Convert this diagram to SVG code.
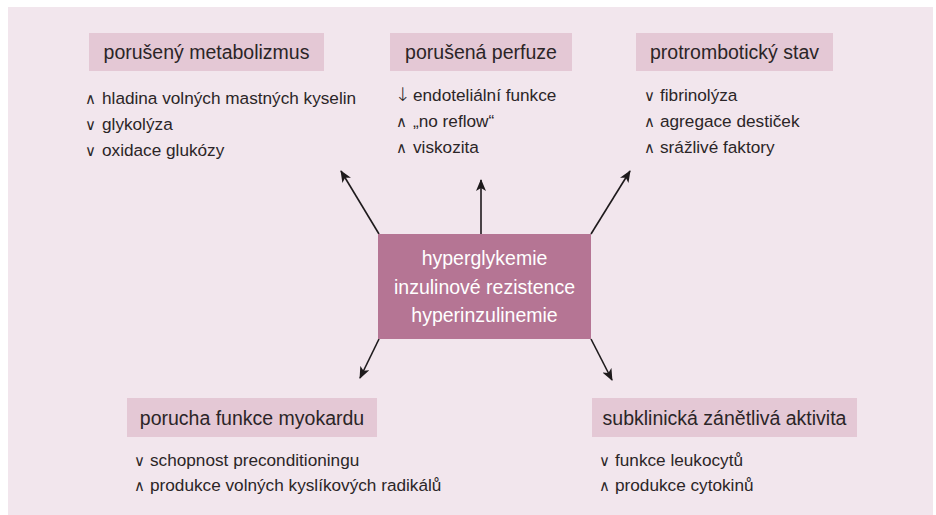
<svg xmlns="http://www.w3.org/2000/svg" width="936" height="515" viewBox="0 0 936 515">
<defs>
<marker id="ah" viewBox="0 0 12 10" refX="11" refY="5" markerWidth="12" markerHeight="10" markerUnits="userSpaceOnUse" orient="auto">
<path d="M0,0 L12,5 L0,10 L3,5 Z" fill="#1e1a1c"/>
</marker>
<style>
.hb{fill:#e4c8d5}
.ht{font-family:"Liberation Sans",Arial,sans-serif;font-size:19.5px;fill:#2b2527;text-anchor:middle}
.lt{font-family:"Liberation Sans",Arial,sans-serif;font-size:17.2px;fill:#2b2527}
.sym{font-family:"DejaVu Sans",sans-serif;font-size:15px;font-weight:200}
.arr{font-family:"DejaVu Sans",sans-serif;font-size:19px;font-weight:200}
.ct{font-family:"Liberation Sans",Arial,sans-serif;font-size:19.5px;fill:#ffffff;text-anchor:middle}
.cn{stroke:#1e1a1c;stroke-width:1.6;fill:none;marker-end:url(#ah)}
</style>
</defs>
<rect x="8" y="7" width="925" height="508" fill="#f2e6ed"/>

<g id="connectors">
<line class="cn" x1="379" y1="234" x2="341" y2="171"/>
<line class="cn" x1="481" y1="234" x2="481" y2="180"/>
<line class="cn" x1="591" y1="234" x2="630" y2="171"/>
<line class="cn" x1="379" y1="339" x2="360" y2="378"/>
<line class="cn" x1="591" y1="339" x2="612" y2="380"/>
</g>

<g id="center">
<rect x="378" y="234" width="213" height="105" fill="#b57594"/>
<text class="ct" x="484.5" y="264.5">hyperglykemie</text>
<text class="ct" x="484.5" y="293.5">inzulinové rezistence</text>
<text class="ct" x="484.5" y="322">hyperinzulinemie</text>
</g>

<g id="metabolizmus">
<rect class="hb" x="89" y="33" width="235" height="38"/>
<text class="ht" x="206.5" y="59">porušený metabolizmus</text>
<text class="lt" y="104"><tspan class="sym" x="85">∧</tspan><tspan x="102">hladina volných mastných kyselin</tspan></text>
<text class="lt" y="130"><tspan class="sym" x="85">∨</tspan><tspan x="102">glykolýza</tspan></text>
<text class="lt" y="156"><tspan class="sym" x="85">∨</tspan><tspan x="102">oxidace glukózy</tspan></text>
</g>

<g id="perfuze">
<rect class="hb" x="390" y="33" width="182" height="38"/>
<text class="ht" x="481" y="59">porušená perfuze</text>
<text class="lt" y="101"><tspan class="arr" x="395">↓</tspan><tspan x="413">endoteliální funkce</tspan></text>
<text class="lt" y="127"><tspan class="sym" x="396">∧</tspan><tspan x="413">„no reflow“</tspan></text>
<text class="lt" y="153"><tspan class="sym" x="396">∧</tspan><tspan x="413">viskozita</tspan></text>
</g>

<g id="protromboticky">
<rect class="hb" x="636" y="33" width="197" height="38"/>
<text class="ht" x="734.5" y="59">protrombotický stav</text>
<text class="lt" y="101"><tspan class="sym" x="644">∨</tspan><tspan x="660">fibrinolýza</tspan></text>
<text class="lt" y="127"><tspan class="sym" x="644">∧</tspan><tspan x="660">agregace destiček</tspan></text>
<text class="lt" y="153"><tspan class="sym" x="644">∧</tspan><tspan x="660">srážlivé faktory</tspan></text>
</g>

<g id="myokard">
<rect class="hb" x="127" y="398" width="250" height="39"/>
<text class="ht" x="252" y="424.5">porucha funkce myokardu</text>
<text class="lt" y="466"><tspan class="sym" x="134">∨</tspan><tspan x="150">schopnost preconditioningu</tspan></text>
<text class="lt" y="491"><tspan class="sym" x="134">∧</tspan><tspan x="150">produkce volných kyslíkových radikálů</tspan></text>
</g>

<g id="zanet">
<rect class="hb" x="592" y="398" width="265" height="39"/>
<text class="ht" x="724.5" y="424.5">subklinická zánětlivá aktivita</text>
<text class="lt" y="466"><tspan class="sym" x="599">∨</tspan><tspan x="615">funkce leukocytů</tspan></text>
<text class="lt" y="491"><tspan class="sym" x="599">∧</tspan><tspan x="615">produkce cytokinů</tspan></text>
</g>
</svg>
